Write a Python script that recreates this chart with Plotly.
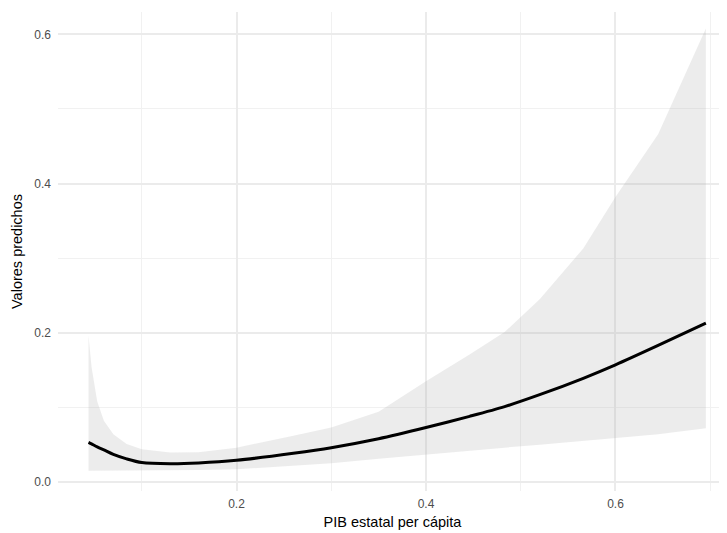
import plotly.graph_objects as go

# Data
x_vals = [0.0438, 0.047, 0.053, 0.06, 0.07, 0.084, 0.1, 0.13, 0.16, 0.2, 0.26, 0.3,
          0.35, 0.4, 0.446, 0.483, 0.52, 0.566, 0.6, 0.645, 0.6954]
fit_vals = [0.053, 0.051, 0.047, 0.043, 0.037, 0.031, 0.026, 0.0245, 0.0255, 0.029, 0.0385, 0.046,
            0.058, 0.073, 0.088, 0.101, 0.117, 0.139, 0.157, 0.183, 0.213]
upper_vals = [0.196, 0.154, 0.108, 0.082, 0.064, 0.051, 0.044, 0.0395, 0.040, 0.046, 0.062, 0.073,
              0.094, 0.135, 0.171, 0.201, 0.245, 0.313, 0.382, 0.466, 0.608]
lower_vals = [0.015, 0.015, 0.015, 0.015, 0.015, 0.015, 0.015, 0.0155, 0.016, 0.017, 0.022, 0.025,
              0.031, 0.037, 0.042, 0.046, 0.050, 0.055, 0.059, 0.064, 0.072]

x_title = "PIB estatal per cápita"
y_title = "Valores predichos"

fig = go.Figure()
fig.add_trace(go.Scatter(x=x_vals, y=lower_vals, mode="lines", line=dict(width=0),
                         hoverinfo="skip", showlegend=False))
fig.add_trace(go.Scatter(x=x_vals, y=upper_vals, mode="lines", line=dict(width=0),
                         fill="tonexty", fillcolor="rgba(170,170,170,0.22)",
                         hoverinfo="skip", showlegend=False))
fig.add_trace(go.Scatter(x=x_vals, y=fit_vals, mode="lines",
                         line=dict(color="black", width=3, shape="spline", smoothing=0.8),
                         showlegend=False))

font_family = "Liberation Sans, Arial, sans-serif"
axis_common = dict(
    showline=False, zeroline=False, ticks="",
    showgrid=True, gridcolor="#EBEBEB", gridwidth=1.8,
    tickfont=dict(family=font_family, size=12, color="#4D4D4D"),
    tickformat=".1f", tick0=0, dtick=0.2,
    minor=dict(showgrid=True, dtick=0.1, tick0=0, gridcolor="#F1F1F1", gridwidth=1.2),
    title_font=dict(family=font_family, size=14.5, color="black"),
)

# The page body adds an 8px offset, so the figure is sized/margined to compensate
fig.update_layout(
    width=719, height=525,
    margin=dict(l=50, r=0, t=4, b=42),
    paper_bgcolor="white", plot_bgcolor="white",
    xaxis=dict(range=[0.0116, 0.7177], title=dict(text=x_title, standoff=6), **axis_common),
    yaxis=dict(range=[-0.0121, 0.630], title=dict(text=y_title, standoff=8), **axis_common),
    font=dict(family=font_family),
)
fig.update_xaxes(ticklabelstandoff=4)
fig.update_yaxes(ticklabelstandoff=6)

fig.write_html("out.html")
